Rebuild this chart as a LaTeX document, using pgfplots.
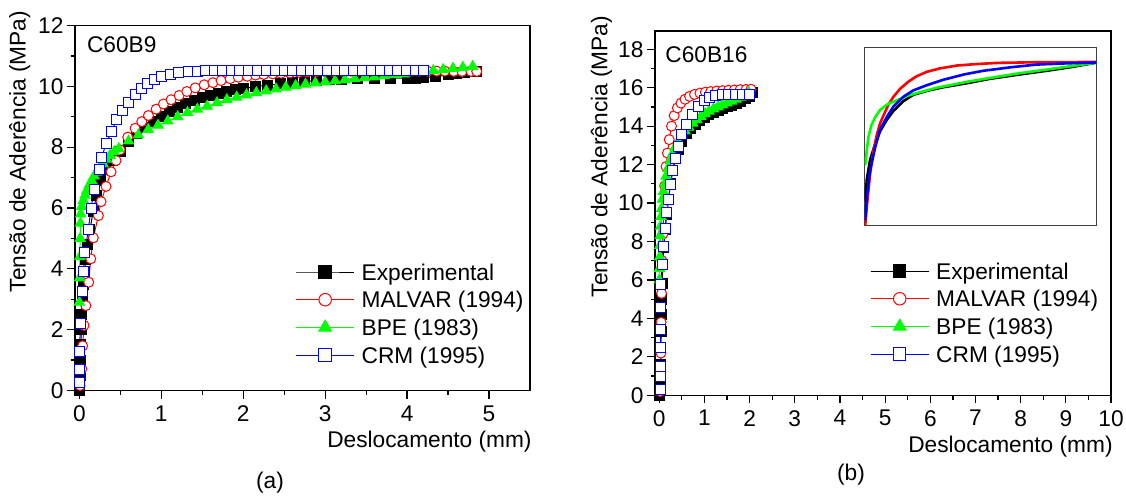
\documentclass[border=0pt]{standalone}
\usepackage{fontspec}
\setmainfont{Liberation Sans}
\usepackage{pgfplots}
\pgfplotsset{compat=1.18}
\definecolor{og}{RGB}{0,255,0}
\definecolor{ob}{RGB}{0,0,255}
\definecolor{orr}{RGB}{255,0,0}
\newcommand\fsz{\fontsize{11.35pt}{13.6pt}\selectfont}
\pgfplotsset{
  panel/.style={
    scale only axis, anchor=south west, clip=false,
    axis line style={line width=0.6pt, black},
    tick align=outside, xtick pos=bottom, ytick pos=left,
    major tick length=4pt, minor tick length=2.2pt,
    minor x tick num=1, minor y tick num=1,
    every tick/.style={line width=0.6pt, black},
    tick label style={font=\fsz},
    /pgf/number format/assume math mode=true,
    yticklabel style={inner xsep=1.6pt},
    legend cell align=left,
    legend image code/.code={
      \draw[mark repeat=2,mark phase=2,##1,every mark/.append style={scale=1.25}]
        plot coordinates {(0pt,0pt) (14.5pt,0pt) (29pt,0pt)};},
    legend style={draw=none, fill=none, inner sep=0pt, outer sep=0pt,
      anchor=north west, column sep=3.5pt, row sep=0pt,
      nodes={inner sep=0pt, text height=10.975pt, text depth=2.875pt, font=\fsz}},
  },
  sexp/.style={black, line width=0.5pt, mark=square*, mark size=2.5pt},
  smal/.style={orr, line width=0.5pt, mark=*, mark size=2.5pt, mark options={fill=white}},
  sbpe/.style={og, line width=0.5pt, mark=triangle*, mark size=2.9pt},
  scrm/.style={ob, line width=0.5pt, mark=square*, mark size=2.5pt, mark options={fill=white}},
}
\begin{document}
\begin{tikzpicture}
\useasboundingbox (0,0) rectangle (563pt,250pt);
% ---------------- (a) C60B9
\begin{axis}[panel, at={(37.5pt,54.75pt)}, width=227.5pt, height=182.5pt,
  xmin=-0.053, xmax=5.5, ymin=0, ymax=12,
  xtick={0,1,2,3,4,5}, ytick={0,2,4,6,8,10,12},
  legend style={at={(0.485,0.3626)}}]
\addplot[sexp] coordinates {(0,0)(0.01,0.5)(0.015,1.0)(0.02,1.5)(0.025,2.0)(0.03,2.5)(0.04,3.0)(0.05,3.5)(0.06,3.9)(0.08,4.3)(0.10,4.8)(0.13,5.3)(0.17,5.9)(0.21,6.4)(0.26,6.9)(0.32,7.25)(0.40,7.55)(0.5,7.85)(0.6,8.2)(0.7,8.45)(0.8,8.65)(0.9,8.85)(1.0,9.02)(1.1,9.17)(1.2,9.3)(1.3,9.42)(1.4,9.53)(1.5,9.62)(1.6,9.7)(1.7,9.77)(1.8,9.83)(1.9,9.88)(2.0,9.93)(2.15,9.99)(2.3,10.04)(2.45,10.08)(2.6,10.12)(2.75,10.16)(2.9,10.19)(3.05,10.21)(3.2,10.23)(3.4,10.25)(3.6,10.26)(3.8,10.27)(4.0,10.27)(4.1,10.25)(4.2,10.29)(4.35,10.31)(4.5,10.38)(4.6,10.43)(4.7,10.46)(4.85,10.5)};
\addlegendentry{Experimental}
\addplot[smal] coordinates {(0.008,0.16)(0.03,0.71)(0.04,1.47)(0.057,2.14)(0.08,2.79)(0.114,3.56)(0.139,4.33)(0.171,5.02)(0.232,5.75)(0.265,6.21)(0.326,6.71)(0.387,7.19)(0.448,7.56)(0.497,7.91)(0.591,8.33)(0.68,8.62)(0.762,8.84)(0.843,9.04)(0.937,9.25)(1.027,9.42)(1.12,9.56)(1.218,9.70)(1.312,9.83)(1.414,9.95)(1.524,10.05)(1.63,10.12)(1.73,10.19)(1.84,10.25)(1.94,10.30)(2.05,10.33)(2.15,10.37)(2.25,10.39)(2.36,10.41)(2.46,10.43)(2.57,10.44)(2.68,10.46)(2.78,10.47)(2.89,10.48)(2.99,10.49)(3.10,10.49)(3.20,10.5)(3.31,10.5)(3.41,10.5)(3.52,10.5)(3.62,10.5)(3.73,10.5)(3.83,10.5)(3.94,10.5)(4.04,10.5)(4.15,10.5)(4.25,10.5)(4.36,10.5)(4.46,10.5)(4.57,10.49)(4.67,10.49)(4.78,10.49)(4.85,10.49)};
\addlegendentry{MALVAR (1994)}
\addplot[sbpe] coordinates {(0,2.9)(0.003,3.7)(0.006,4.4)(0.01,5.0)(0.013,5.5)(0.016,5.8)(0.03,6.05)(0.049,6.25)(0.07,6.42)(0.09,6.57)(0.12,6.75)(0.15,6.9)(0.18,7.05)(0.21,7.18)(0.25,7.32)(0.29,7.45)(0.33,7.6)(0.375,7.73)(0.425,7.85)(0.48,7.95)(0.60,8.2)(0.72,8.4)(0.84,8.58)(0.96,8.72)(1.08,8.86)(1.2,9.0)(1.32,9.14)(1.44,9.25)(1.56,9.35)(1.68,9.46)(1.8,9.56)(1.92,9.64)(2.04,9.72)(2.16,9.79)(2.28,9.85)(2.4,9.91)(2.52,9.97)(2.64,10.02)(2.76,10.07)(2.88,10.11)(3.0,10.14)(3.12,10.18)(3.24,10.21)(3.36,10.25)(3.48,10.28)(3.6,10.31)(3.72,10.35)(3.84,10.38)(3.96,10.41)(4.08,10.45)(4.2,10.48)(4.32,10.52)(4.44,10.55)(4.56,10.59)(4.68,10.62)(4.8,10.65)};
\addlegendentry{BPE (1983)}
\addplot[scrm] coordinates {(0,0.27)(0,0.68)(0,1.29)(0.016,2.21)(0.033,3.27)(0.049,3.92)(0.069,4.55)(0.11,5.30)(0.143,6.0)(0.183,6.62)(0.24,7.27)(0.273,7.67)(0.326,8.11)(0.395,8.53)(0.456,8.90)(0.526,9.19)(0.599,9.48)(0.68,9.72)(0.762,9.92)(0.831,10.08)(0.917,10.21)(1.006,10.32)(1.108,10.39)(1.214,10.44)(1.33,10.48)(1.44,10.50)(1.54,10.51)(1.65,10.51)(1.75,10.52)(1.86,10.52)(1.96,10.52)(2.07,10.52)(2.18,10.52)(2.28,10.52)(2.39,10.52)(2.5,10.52)(2.6,10.52)(2.71,10.52)(2.82,10.52)(2.92,10.52)(3.03,10.52)(3.14,10.52)(3.24,10.52)(3.35,10.52)(3.46,10.52)(3.56,10.52)(3.67,10.52)(3.78,10.52)(3.88,10.52)(3.99,10.52)(4.1,10.52)(4.2,10.52)};
\addlegendentry{CRM (1995)}
\end{axis}
% ---------------- (b) C60B16
\begin{axis}[panel, at={(327.5pt,52.35pt)}, width=228pt, height=182.15pt,
  xmin=-0.095, xmax=10, ymin=0, ymax=18.95,
  xtick={0,1,2,3,4,5,6,7,8,9,10}, ytick={0,2,4,6,8,10,12,14,16,18},
  legend style={at={(0.472,0.379)}}]
\addplot[sexp] coordinates {(0,0)(0.02,0.8)(0.03,1.6)(0.035,2.5)(0.04,3.3)(0.045,4.2)(0.05,5.0)(0.06,5.8)(0.08,6.8)(0.1,7.7)(0.13,8.6)(0.16,9.4)(0.2,10.2)(0.25,11.0)(0.3,11.7)(0.36,12.3)(0.43,12.8)(0.5,13.2)(0.6,13.6)(0.7,13.9)(0.8,14.1)(0.9,14.3)(1.0,14.45)(1.1,14.6)(1.2,14.72)(1.3,14.82)(1.4,14.92)(1.5,15.0)(1.6,15.1)(1.7,15.2)(1.8,15.3)(1.9,15.42)(2.0,15.55)(2.07,15.75)};
\addlegendentry{Experimental}
\addplot[smal] coordinates {(0.02,0.2)(0.03,1.2)(0.035,2.2)(0.04,3.8)(0.05,5.3)(0.06,7.0)(0.08,8.4)(0.10,9.7)(0.12,10.9)(0.15,11.9)(0.18,12.6)(0.22,13.3)(0.27,14.0)(0.33,14.55)(0.40,14.95)(0.48,15.2)(0.57,15.4)(0.67,15.55)(0.78,15.65)(0.9,15.72)(1.02,15.77)(1.14,15.8)(1.27,15.83)(1.4,15.85)(1.53,15.87)(1.66,15.88)(1.79,15.9)(1.92,15.91)(2.03,15.92)};
\addlegendentry{MALVAR (1994)}
\addplot[sbpe] coordinates {(0.0,6.0)(0.005,6.6)(0.01,7.2)(0.015,7.8)(0.02,8.3)(0.03,8.8)(0.04,9.3)(0.05,9.7)(0.07,10.2)(0.09,10.6)(0.12,11.0)(0.15,11.4)(0.19,11.8)(0.24,12.2)(0.29,12.55)(0.35,12.9)(0.42,13.2)(0.49,13.5)(0.57,13.75)(0.65,13.95)(0.74,14.15)(0.83,14.33)(0.92,14.5)(1.01,14.65)(1.1,14.78)(1.2,14.9)(1.3,15.0)(1.4,15.1)(1.5,15.2)(1.6,15.3)(1.7,15.4)(1.8,15.5)(1.9,15.62)(1.98,15.75)};
\addlegendentry{BPE (1983)}
\addplot[scrm] coordinates {(0.03,0.3)(0.03,0.97)(0.03,1.5)(0.03,2.5)(0.03,3.4)(0.03,4.56)(0.03,5.74)(0.06,6.78)(0.10,7.73)(0.13,8.68)(0.16,9.51)(0.21,10.2)(0.24,10.94)(0.29,11.68)(0.35,12.32)(0.42,12.96)(0.50,13.57)(0.61,14.09)(0.73,14.61)(0.86,15.0)(0.99,15.32)(1.12,15.48)(1.25,15.6)(1.40,15.65)(1.53,15.65)(1.69,15.66)(1.85,15.67)(1.99,15.65)};
\addlegendentry{CRM (1995)}
\end{axis}
% ---------------- inset (curves, in box fractions)
\begin{axis}[scale only axis, anchor=south west, at={(432.25pt,137.15pt)}, width=116pt, height=89pt,
  xmin=0, xmax=1, ymin=0, ymax=1, xtick=\empty, ytick=\empty,
  axis line style={line width=0.6pt, black!75}, axis background/.style={fill=white}]
\addplot[black, line width=1.3pt, no marks] coordinates {(0.003,0.14)(0.01,0.26)(0.024,0.37)(0.046,0.46)(0.067,0.53)(0.096,0.595)(0.125,0.645)(0.168,0.70)(0.21,0.735)(0.27,0.758)(0.34,0.778)(0.44,0.80)(0.54,0.825)(0.66,0.848)(0.8,0.873)(0.9,0.893)(1,0.916)};
\addplot[orr, line width=1.3pt, no marks] coordinates {(0.003,0)(0.01,0.107)(0.024,0.29)(0.039,0.425)(0.053,0.51)(0.067,0.575)(0.082,0.62)(0.103,0.68)(0.125,0.725)(0.154,0.77)(0.19,0.81)(0.225,0.84)(0.27,0.865)(0.326,0.884)(0.40,0.90)(0.48,0.908)(0.58,0.915)(0.73,0.918)(0.87,0.919)(1,0.92)};
\addplot[og, line width=1.3pt, no marks] coordinates {(0.003,0.34)(0.01,0.425)(0.017,0.5)(0.03,0.565)(0.046,0.61)(0.067,0.65)(0.096,0.68)(0.14,0.705)(0.18,0.728)(0.24,0.75)(0.31,0.775)(0.37,0.79)(0.44,0.808)(0.54,0.83)(0.66,0.855)(0.8,0.88)(0.9,0.898)(1,0.916)};
\addplot[ob, line width=1.3pt, no marks] coordinates {(0.003,0.03)(0.01,0.16)(0.024,0.31)(0.046,0.44)(0.067,0.54)(0.096,0.61)(0.125,0.67)(0.168,0.725)(0.21,0.76)(0.27,0.79)(0.34,0.82)(0.43,0.85)(0.51,0.87)(0.63,0.89)(0.74,0.905)(0.87,0.912)(1,0.917)};
\end{axis}
% ---------------- labels
\node[font=\fsz, rotate=90, anchor=base, inner sep=0pt] at (12.75pt,174.25pt) {Tensão de Aderência (MPa)};
\node[font=\fsz, rotate=90, anchor=base, inner sep=0pt] at (303.65pt,171.75pt) {Tensão de Aderência (MPa)};
\node[font=\fsz, anchor=base east, inner sep=0pt] at (266pt,26.5pt) {Deslocamento (mm)};
\node[font=\fsz, anchor=base east, inner sep=0pt] at (556.5pt,24pt) {Deslocamento (mm)};
\node[font=\fsz, anchor=base west, inner sep=0pt] at (43.35pt,224pt) {C60B9};
\node[font=\fsz, anchor=base west, inner sep=0pt] at (332.5pt,219pt) {C60B16};
\node[font=\fsz, inner sep=0pt] at (135pt,8.5pt) {(a)};
\node[font=\fsz, inner sep=0pt] at (425.5pt,12.5pt) {(b)};
\end{tikzpicture}
\end{document}
